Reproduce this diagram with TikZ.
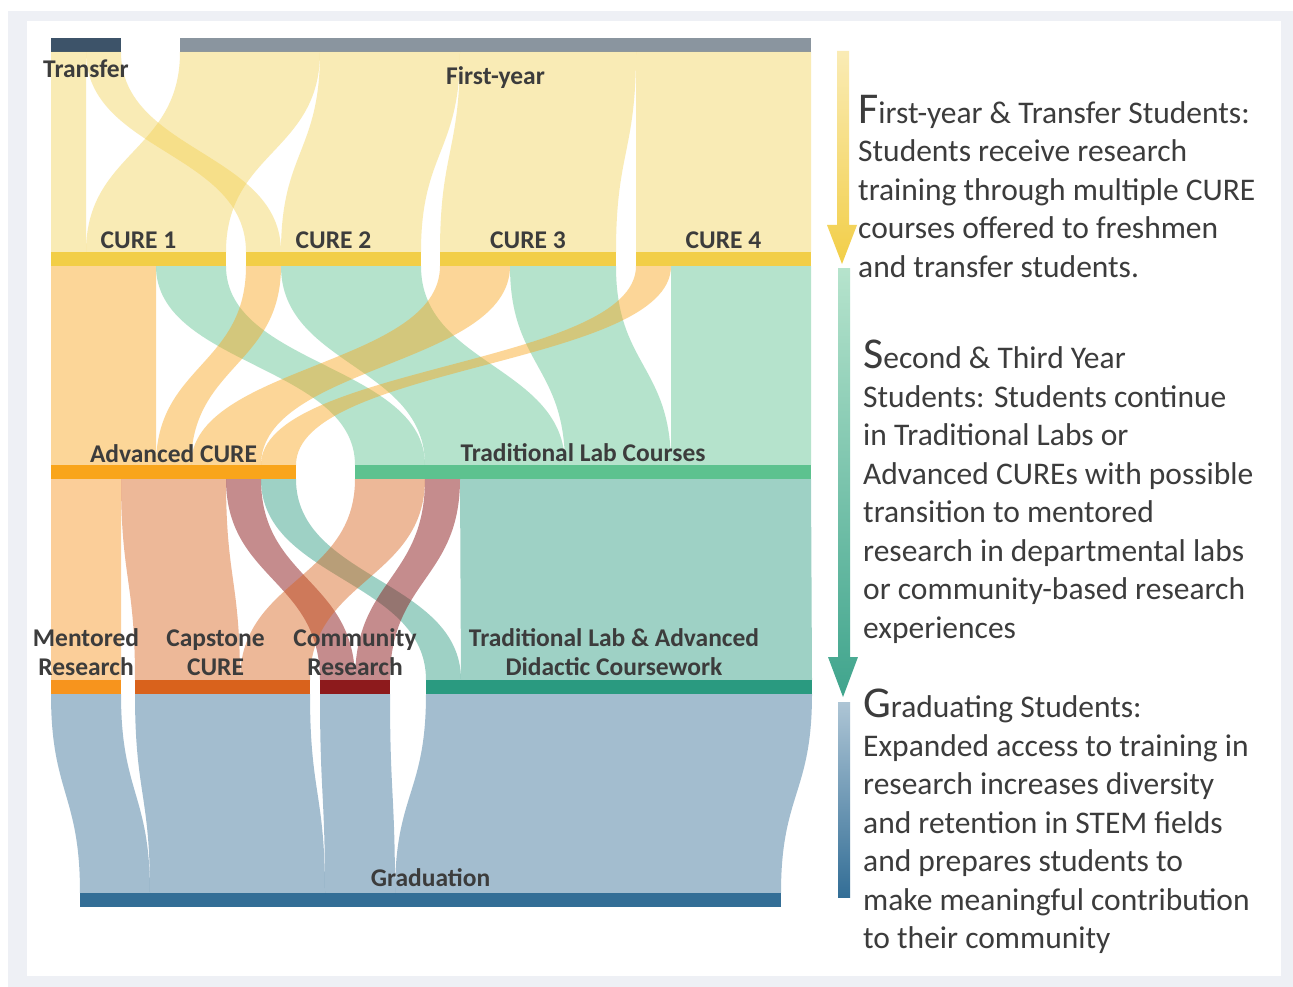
\documentclass[tikz,border=0pt]{standalone}
\usepackage{fontspec}
\setmainfont{Carlito}
\usepackage{tikz}
\usetikzlibrary{calc,positioning}

\definecolor{tekst}{HTML}{3C3C3C}
\definecolor{frame}{HTML}{EEF0F5}
\definecolor{barTransfer}{HTML}{3D5369}
\definecolor{barFirst}{HTML}{8A959F}
\definecolor{barCure}{HTML}{F2CE47}
\definecolor{barAdv}{HTML}{F9A51B}
\definecolor{barTrad}{HTML}{5DC28F}
\definecolor{barMent}{HTML}{F7941D}
\definecolor{barCaps}{HTML}{D9621C}
\definecolor{barComm}{HTML}{8D1A1C}
\definecolor{barTLA}{HTML}{2A9A80}
\definecolor{barGrad}{HTML}{336E96}

% pasmo miedzy dwoma paskami: styl, zrodlo, przesuniecie, cel, przesuniecie, szerokosc
\newcommand{\flowband}[6]{%
  \fill[#1] let \p1=(#2.south west), \p2=(#4.north west) in
    ({\x1+#3pt},\y1) .. controls ({\x1+#3pt},{0.5*\y1+0.5*\y2}) and ({\x2+#5pt},{0.5*\y1+0.5*\y2}) .. ({\x2+#5pt},\y2)
    -- ({\x2+#5pt+#6pt},\y2) .. controls ({\x2+#5pt+#6pt},{0.5*\y1+0.5*\y2}) and ({\x1+#3pt+#6pt},{0.5*\y1+0.5*\y2}) .. ({\x1+#3pt+#6pt},\y1) -- cycle;}
\newcommand{\bigletter}[1]{{\fontsize{44}{38.5}\selectfont #1}}

\begin{document}
\begin{tikzpicture}[x=1pt, y=-1pt,
    bar/.style={rectangle, inner sep=0pt, outer sep=0pt, minimum height=14pt, anchor=north west},
    lbl/.style={font=\bfseries\fontsize{25.5}{29}\selectfont, text=tekst, inner sep=0pt, align=center},
    desc/.style={font=\fontsize{31.5}{38.5}\selectfont, text=tekst, inner sep=0pt, align=left, anchor=north west},
    yel/.style={fill=barCure, fill opacity=0.4},
    adv/.style={fill=barAdv, fill opacity=0.45},
    trad/.style={fill=barTrad, fill opacity=0.45},
    ment/.style={fill=barMent, fill opacity=0.45},
    caps/.style={fill=barCaps, fill opacity=0.45},
    comm/.style={fill=barComm, fill opacity=0.5},
    tla/.style={fill=barTLA, fill opacity=0.45},
    grad/.style={fill=barGrad, fill opacity=0.45}]

    % Tlo
    \fill[white] (0,0) rectangle (1293,987);
    \fill[frame] (8,11) rectangle (1293,987);
    \fill[white] (27,21) rectangle (1281,976);
    \useasboundingbox (0,0) rectangle (1293,987);

    % Paski poziomow
    \node[bar, fill=barTransfer, minimum width=70pt] (transfer) at (51,38) {};
    \node[bar, fill=barFirst, minimum width=631pt] (firstyear) at (180,38) {};
    \node[bar, fill=barCure, minimum width=175pt] (cure1) at (51,252) {};
    \node[bar, fill=barCure, minimum width=175pt] (cure2) at (246,252) {};
    \node[bar, fill=barCure, minimum width=176pt] (cure3) at (440,252) {};
    \node[bar, fill=barCure, minimum width=175pt] (cure4) at (636,252) {};
    \node[bar, fill=barAdv, minimum width=245pt] (advcure) at (51,465) {};
    \node[bar, fill=barTrad, minimum width=456pt] (tradlab) at (355,465) {};
    \node[bar, fill=barMent, minimum width=70pt] (mentored) at (51,680) {};
    \node[bar, fill=barCaps, minimum width=175pt] (capstone) at (135,680) {};
    \node[bar, fill=barComm, minimum width=70pt] (community) at (320,680) {};
    \node[bar, fill=barTLA, minimum width=386pt] (tradadv) at (426,680) {};
    \node[bar, fill=barGrad, minimum width=701pt] (graduation) at (80,893) {};

    % Przeplywy: pierwszy rok
    \flowband{yel}{transfer}{0}{cure1}{0}{35}
    \flowband{yel}{transfer}{35}{cure2}{0}{35}
    \flowband{yel}{firstyear}{0}{cure1}{35}{140}
    \flowband{yel}{firstyear}{140}{cure2}{35}{140}
    \flowband{yel}{firstyear}{280}{cure3}{0}{176}
    \flowband{yel}{firstyear}{456}{cure4}{0}{175}

    % Przeplywy: drugi rok
    \flowband{adv}{cure1}{0}{advcure}{0}{105}
    \flowband{trad}{cure1}{105}{tradlab}{0}{70}
    \flowband{adv}{cure2}{0}{advcure}{105}{35}
    \flowband{trad}{cure2}{35}{tradlab}{70}{140}
    \flowband{adv}{cure3}{0}{advcure}{140}{70}
    \flowband{trad}{cure3}{70}{tradlab}{210}{106}
    \flowband{adv}{cure4}{0}{advcure}{210}{35}
    \flowband{trad}{cure4}{35}{tradlab}{316}{140}

    % Przeplywy: trzeci rok
    \flowband{ment}{advcure}{0}{mentored}{0}{70}
    \flowband{caps}{advcure}{70}{capstone}{0}{105}
    \flowband{comm}{advcure}{175}{community}{0}{35}
    \flowband{tla}{advcure}{210}{tradadv}{0}{35}
    \flowband{caps}{tradlab}{0}{capstone}{105}{70}
    \flowband{comm}{tradlab}{70}{community}{35}{35}
    \flowband{tla}{tradlab}{105}{tradadv}{35}{351}

    % Przeplywy: dyplom
    \flowband{grad}{mentored}{0}{graduation}{0}{70}
    \flowband{grad}{capstone}{0}{graduation}{70}{175}
    \flowband{grad}{community}{0}{graduation}{245}{70}
    \flowband{grad}{tradadv}{0}{graduation}{315}{386}

    % Opisy paskow
    \node[lbl, below=8pt] (transferlbl) at (transfer.south) {Transfer};
    \node[lbl, below=14pt] (firstyearlbl) at (firstyear.south) {First-year};
    \node[lbl, above=3pt] (cure1lbl) at (cure1.north) {CURE 1};
    \node[lbl, above=3pt] (cure2lbl) at (cure2.north) {CURE 2};
    \node[lbl, above=3pt] (cure3lbl) at (cure3.north) {CURE 3};
    \node[lbl, above=3pt] (cure4lbl) at (cure4.north) {CURE 4};
    \node[lbl, above=2pt] (advcurelbl) at (advcure.north) {Advanced CURE};
    \node[lbl, above=3pt] (tradlablbl) at (tradlab.north) {Traditional Lab Courses};
    \node[lbl, above=4pt] (mentoredlbl) at (mentored.north) {Mentored\\Research};
    \node[lbl, above=4pt, xshift=-7pt] (capstonelbl) at (capstone.north) {Capstone\\CURE};
    \node[lbl, above=4pt] (communitylbl) at (community.north) {Community\\Research};
    \node[lbl, above=4pt, xshift=-5pt] (tradadvlbl) at (tradadv.north) {Traditional Lab \& Advanced\\Didactic Coursework};
    \node[lbl, above=6pt] (graduationlbl) at (graduation.north) {Graduation};

    % Strzalki etapow
    \shade[top color=barCure!40, bottom color=barCure] (837,51) -- (849,51) -- (849,225) -- (857,225) -- (842,264) -- (827,225) -- (837,225) -- cycle;
    \shade[top color=barTrad!45, bottom color=barTLA!90] (838,268) -- (850,268) -- (850,657) -- (858,657) -- (843,697) -- (828,657) -- (838,657) -- cycle;
    \shade[top color=barGrad!40, bottom color=barGrad] (838,702) rectangle (850,897);

    % Opisy etapow
    \node[desc] (firststage) at (858,95) {\bigletter{F}irst-year \& Transfer Students:\\Students receive research\\training through multiple CURE\\courses offered to freshmen\\and transfer students.};
    \node[desc] (secondstage) at (863,340) {\bigletter{S}econd \& Third Year\\Students: Students continue\\in Traditional Labs or\\Advanced CUREs with possible\\transition to mentored\\research in departmental labs\\or community-based research\\experiences};
    \node[desc] (gradstage) at (863,689) {\bigletter{G}raduating Students:\\Expanded access to training in\\research increases diversity\\and retention in STEM fields\\and prepares students to\\make meaningful contribution\\to their community};
\end{tikzpicture}
\end{document}
